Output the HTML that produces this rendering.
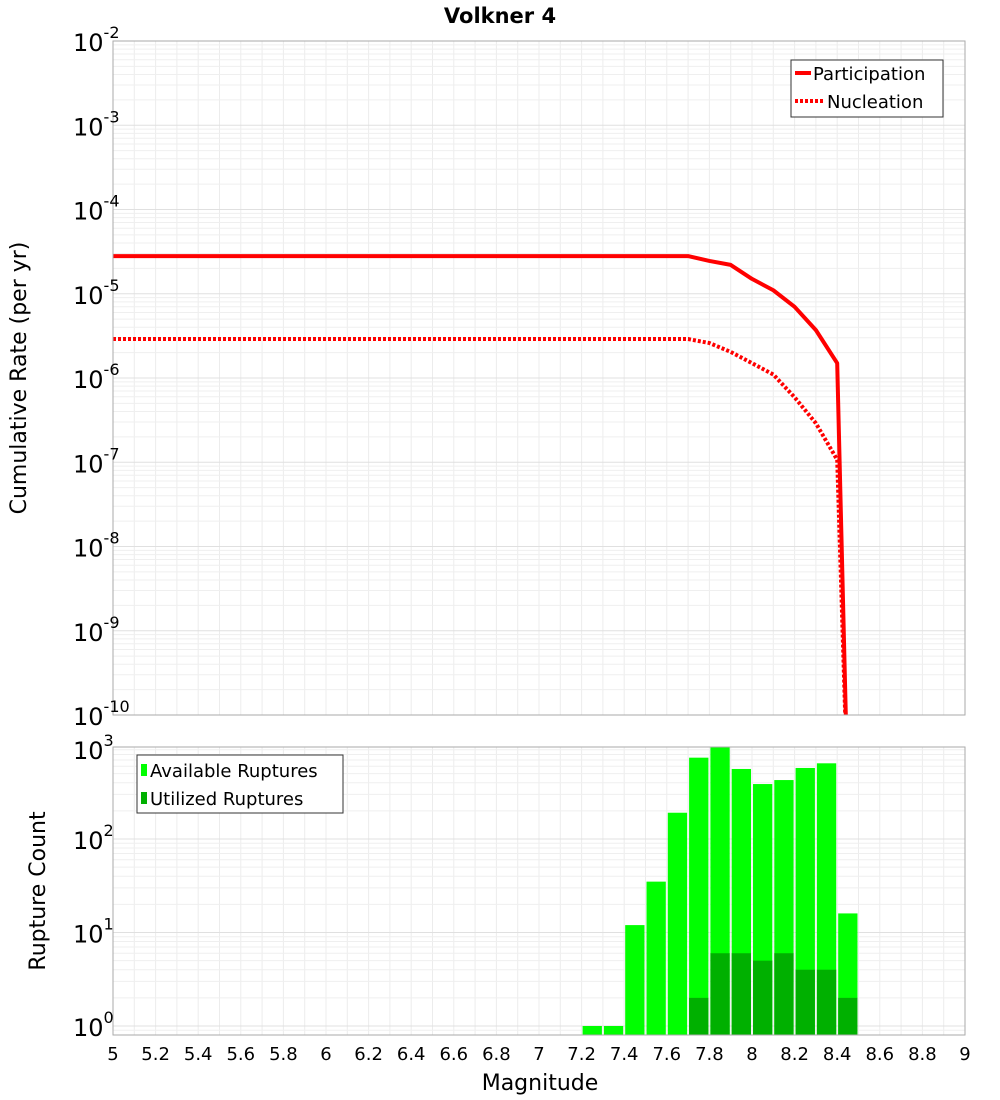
<!DOCTYPE html>
<html><head><meta charset="utf-8"><style>
body{margin:0;background:#fff;}
svg{display:block;font-family:"DejaVu Sans","Liberation Sans",sans-serif;}
</style></head><body>
<svg id="chart" width="1000" height="1100" viewBox="0 0 1000 1100" xmlns="http://www.w3.org/2000/svg">
<text x="500" y="23" text-anchor="middle" font-size="21" font-weight="bold">Volkner 4</text>
<g id="grid1"></g>
<g id="grid2"></g>
<g id="bars"></g>
<g id="lines"></g>
<rect x="113" y="41" width="852" height="674" fill="none" stroke="#aaa"/>
<rect x="113" y="747" width="852" height="288" fill="none" stroke="#aaa"/>
<g id="axes"></g>
<text transform="translate(26,378) rotate(-90)" text-anchor="middle" font-size="22">Cumulative Rate (per yr)</text>
<text transform="translate(45,891) rotate(-90)" text-anchor="middle" font-size="22">Rupture Count</text>
<text x="540" y="1090" text-anchor="middle" font-size="22">Magnitude</text>
<g>
<rect x="791" y="60" width="152" height="57" fill="#fff" stroke="#333"/>
<line x1="795" y1="73" x2="811" y2="73" stroke="#f00" stroke-width="4"/>
<text x="813" y="80" font-size="18">Participation</text>
<line x1="795" y1="101" x2="823" y2="101" stroke="#f00" stroke-width="4" stroke-dasharray="3,2"/>
<text x="827" y="108" font-size="18">Nucleation</text>
</g>
<g>
<rect x="137" y="755" width="206" height="58" fill="#fff" stroke="#333"/>
<rect x="141" y="764" width="6" height="12" fill="#00ff00"/>
<text x="150" y="777" font-size="18">Available Ruptures</text>
<rect x="141" y="792" width="6" height="12" fill="#00b000"/>
<text x="150" y="805" font-size="18">Utilized Ruptures</text>
</g>
</svg>
<script>
const mags = [7.7,7.8,7.9,8.0,8.1,8.2,8.3,8.4,8.45];
const participation = [2.8e-5,2.45e-5,2.2e-5,1.5e-5,1.1e-5,7e-6,3.7e-6,1.5e-6,1e-11];
const nucleation = [2.9e-6,2.6e-6,2.04e-6,1.5e-6,1.1e-6,5.9e-7,2.9e-7,1.07e-7,1e-11];
const binCenters = [7.25,7.35,7.45,7.55,7.65,7.75,7.85,7.95,8.05,8.15,8.25,8.35,8.45];
const available = [1,1,12,35,191,741,1000,561,387,427,575,645,16];
const utilized = [0,0,0,0,0,2,6,6,5,6,4,4,2];
const xTicks = ["5","5.2","5.4","5.6","5.8","6","6.2","6.4","6.6","6.8","7","7.2","7.4","7.6","7.8","8","8.2","8.4","8.6","8.8","9"];

const NS="http://www.w3.org/2000/svg";
const X=m=>113+(m-5)*213;
const Y1=v=>41+(-2-Math.log10(v))*84.25;
const Y2=v=>1026-Math.log10(v)*93.5;
function mk(tag,attrs,parent){const e=document.createElementNS(NS,tag);for(const k in attrs)e.setAttribute(k,attrs[k]);parent.appendChild(e);return e;}
const g1=document.getElementById('grid1'),g2=document.getElementById('grid2'),bars=document.getElementById('bars'),lines=document.getElementById('lines'),axes=document.getElementById('axes');
for(let i=0;i<=40;i++){const x=X(5+i*0.1);
 mk('line',{x1:x,x2:x,y1:41,y2:715,stroke:'#ececec'},g1);
 mk('line',{x1:x,x2:x,y1:747,y2:1035,stroke:'#ececec'},g2);}
for(let d=-10;d<-2;d++){for(let k=1;k<10;k++){const y=Y1(k*Math.pow(10,d));mk('line',{x1:113,x2:965,y1:y,y2:y,stroke:k==1?'#e0e0e0':'#efefef'},g1);}}
for(let d=-1;d<3;d++){for(let k=1;k<10;k++){const y=Y2(k*Math.pow(10,d));if(y<747||y>1035)continue;mk('line',{x1:113,x2:965,y1:y,y2:y,stroke:k==1?'#e0e0e0':'#efefef'},g2);}}
const clip=mk('clipPath',{id:'c2'},document.getElementById('chart'));mk('rect',{x:113,y:747,width:852,height:288},clip);
const clip1=mk('clipPath',{id:'c1'},document.getElementById('chart'));mk('rect',{x:113,y:41,width:852,height:674},clip1);
bars.setAttribute('clip-path','url(#c2)');
binCenters.forEach((c,i)=>{
 const x0=X(c-0.05)+1,w=X(c+0.05)-X(c-0.05)-2;
 const y=Y2(available[i]);
 const r=mk('rect',{x:x0,y:y,width:w,height:1035-y,fill:'#00ff00'},bars);
 
 
 if(utilized[i]>0){const yu=Y2(utilized[i]);
  const u=mk('rect',{x:x0,y:yu,width:w,height:1035-yu,fill:'#00b000'},bars);
  
  }
});
lines.setAttribute('clip-path','url(#c1)');
function pts(arr){let p=[[X(5),Y1(arr[0])]];mags.forEach((m,i)=>p.push([X(m),Y1(arr[i])]));return p.map(q=>q.join(',')).join(' ');}
const lp=mk('polyline',{points:pts(participation),fill:'none',stroke:'#f00','stroke-width':4,'stroke-linejoin':'round'},lines);


const ln=mk('polyline',{points:pts(nucleation),fill:'none',stroke:'#f00','stroke-width':4,'stroke-dasharray':'3,2'},lines);


for(let d=-2;d>=-10;d--){const y=Y1(Math.pow(10,d));const t=mk('text',{x:73,y:y+10,'font-size':24},axes);
 
 
 t.textContent='10';
 const s=mk('tspan',{dy:-13,'font-size':16},t);s.textContent=String(d);}
for(let d=0;d<=3;d++){const y=Math.max(Y2(Math.pow(10,d)),749);const t=mk('text',{x:73,y:y+10,'font-size':24},axes);
 
 
 t.textContent='10';
 const s=mk('tspan',{dy:-13,'font-size':16},t);s.textContent=String(d);}
xTicks.forEach(l=>{const t=mk('text',{x:X(parseFloat(l)),y:1060,'text-anchor':'middle','font-size':18},axes);
 
 
 t.textContent=l;});
</script>
</body></html>
